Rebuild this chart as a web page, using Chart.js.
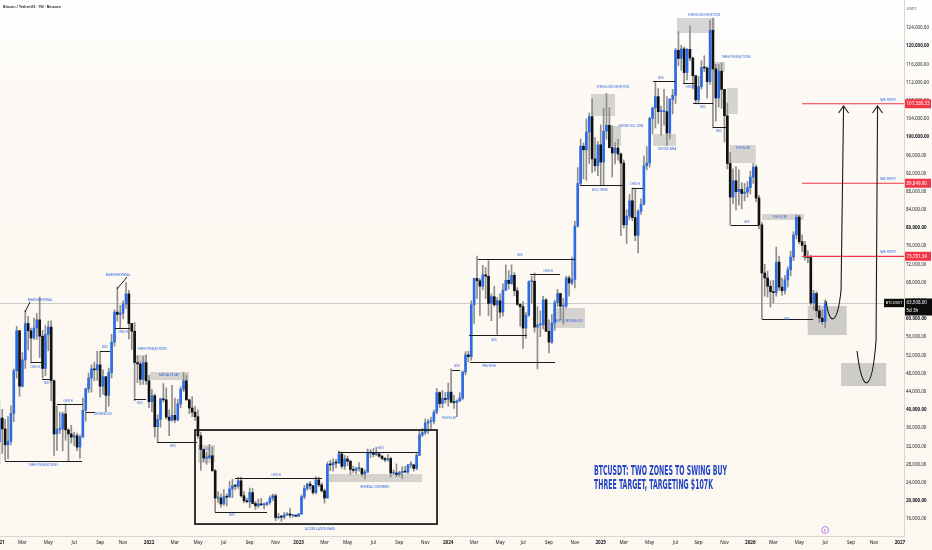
<!DOCTYPE html>
<html><head><meta charset="utf-8">
<script src="https://cdn.jsdelivr.net/npm/chart.js@4.4.0/dist/chart.umd.min.js"></script>
<style>
html,body{margin:0;padding:0;background:#fcf8f1;overflow:hidden}
#wrap{position:relative;width:932px;height:550px}
</style>
</head><body>
<div id="wrap"><canvas id="c" width="932" height="550" style="width:932px;height:550px"></canvas></div>
<script>
// ---------------- DATA (weekly candles, thousands USDT: [open, high, low, close]) ----------------
const firstWeek = '2021-01-04';
const ohlc2021 = [
[33.0,41.9,28.1,38.2],[38.2,40.1,30.4,35.8],[35.8,37.9,28.9,32.3],[32.3,38.5,29.2,33.1],
[33.1,40.9,32.3,39.2],[39.2,49.0,37.4,48.6],[48.6,58.4,47.0,57.4],[57.4,57.5,43.0,45.2],
[45.2,52.6,45.0,51.0],[51.0,61.8,49.1,59.0],[59.0,60.6,53.2,57.4],[57.4,58.0,50.3,55.8],[55.8,60.2,55.5,58.0],
[58.0,61.2,55.5,59.8],[59.8,64.8,51.5,56.2],[56.2,57.5,47.0,49.1],[49.1,58.5,47.5,56.6],
[56.6,59.5,53.0,58.2],[58.2,59.6,42.0,46.4],[46.4,46.6,30.0,34.7],[34.7,40.9,31.1,35.7],[35.7,39.5,34.8,35.8],
[35.8,39.5,31.0,39.1],[39.1,41.3,33.3,35.6],[35.6,35.8,28.8,34.7],[34.7,36.6,32.7,34.0],
[34.0,35.1,32.1,34.3],[34.3,34.9,31.0,31.8],[31.8,34.5,29.3,34.0],[34.0,42.6,34.0,39.9],
[39.9,44.8,37.5,44.6],[44.6,48.1,43.8,47.0],[47.0,49.9,43.9,49.0],[49.0,50.5,46.4,48.8],[48.8,52.9,46.5,49.9],
[49.9,52.9,42.8,45.2],[45.2,48.8,43.4,47.3],[47.3,47.3,39.6,43.2],[43.2,49.2,40.8,48.2],
[48.2,56.6,47.0,54.9],[54.9,62.0,54.0,61.5],[61.5,67.0,59.5,61.0],[61.0,63.0,57.8,61.3],
[61.3,64.0,60.0,63.3],[63.3,68.0,62.3,65.5],[65.5,66.3,55.6,59.0],[59.0,59.0,53.3,57.3],[57.3,59.2,42.0,50.4],
[50.4,51.9,46.0,50.1],[50.1,50.7,45.5,46.7],[46.7,51.8,45.6,50.4],[50.4,52.1,45.6,46.4]
];
const ohlc2022 = [
[46.4,47.6,40.5,41.8],[41.8,44.5,39.6,43.1],[43.1,43.5,34.0,36.3],[36.3,38.9,32.9,37.9],[37.9,42.6,36.2,42.4],
[42.4,45.8,41.7,42.2],[42.2,44.8,38.0,38.4],[38.4,40.0,34.3,37.7],[37.7,45.4,37.5,38.8],
[38.8,42.6,37.2,37.8],[37.8,42.3,37.6,41.3],[41.3,45.1,40.5,44.5],[44.5,48.2,44.0,46.4],
[46.4,47.7,42.1,42.2],[42.2,42.4,39.2,40.4],[40.4,42.9,38.5,39.5],[39.5,40.8,37.7,38.5],
[38.5,40.0,33.7,34.3],[34.3,35.0,26.7,31.3],[31.3,31.3,28.6,29.4],[29.4,30.6,28.0,29.5],[29.5,32.4,29.3,29.9],
[29.9,31.8,26.5,26.6],[26.6,26.9,17.6,20.6],[20.6,22.0,19.6,20.6],[20.6,21.5,18.6,19.3],
[19.3,22.5,19.0,20.9],[20.9,21.5,18.9,20.8],[20.8,24.3,20.8,22.6],[22.6,24.7,20.7,23.3],
[23.3,23.6,22.4,23.2],[23.2,25.2,22.7,24.4],[24.4,25.2,20.8,21.1],[21.1,22.0,19.5,20.0],[20.0,20.6,19.5,19.8],
[19.8,22.8,18.5,21.8],[21.8,22.7,19.3,19.4],[19.4,19.9,18.1,18.9],[18.9,20.4,18.5,19.3],
[19.3,20.5,19.0,19.1],[19.1,19.5,18.2,19.2],[19.2,19.7,18.9,19.6],[19.6,21.1,19.2,20.6],[20.6,21.5,20.0,21.1],
[21.1,21.5,15.6,16.3],[16.3,17.2,16.0,16.5],[16.5,16.8,15.5,16.4],[16.4,17.4,16.0,16.9],
[16.9,17.4,16.7,17.1],[17.1,18.4,16.3,16.8],[16.8,17.0,16.4,16.8],[16.8,16.9,16.5,16.6]
];
const ohlc2023 = [
[16.6,17.2,16.5,17.1],[17.1,21.3,17.0,20.9],[20.9,23.4,20.4,22.7],[22.7,23.9,22.3,23.7],[23.7,24.3,22.5,23.3],
[23.3,23.4,21.4,21.8],[21.8,25.3,21.5,24.6],[24.6,25.2,23.1,23.5],[23.5,23.9,21.9,22.2],
[22.2,22.6,19.5,20.6],[20.6,28.5,20.6,28.0],[28.0,28.9,26.6,27.9],[27.9,29.2,26.5,28.4],
[28.4,29.1,27.2,28.3],[28.3,31.0,28.2,30.3],[30.3,30.5,27.1,27.6],[27.6,30.0,26.9,29.2],
[29.2,29.8,27.7,28.7],[28.7,28.9,25.8,26.9],[26.9,27.6,26.2,26.7],[26.7,27.4,25.9,27.1],[27.1,28.4,26.5,27.1],
[27.1,27.2,25.4,25.9],[25.9,26.8,24.8,26.3],[26.3,31.4,26.2,30.5],[30.5,31.3,29.5,30.6],
[30.6,31.5,29.7,30.2],[30.2,31.8,29.9,30.3],[30.3,30.4,29.5,29.8],[29.8,30.0,29.0,29.3],[29.3,29.5,28.6,29.0],
[29.0,30.2,28.7,29.3],[29.3,29.6,25.2,26.1],[26.1,26.8,25.8,26.1],[26.1,28.1,25.3,25.8],
[25.8,26.5,25.4,26.2],[26.2,27.5,24.9,26.5],[26.5,27.5,26.3,26.3],[26.3,28.0,26.0,27.9],
[27.9,28.6,27.2,27.9],[27.9,28.0,26.5,27.1],[27.1,30.4,26.8,30.0],[30.0,35.3,29.9,34.5],[34.5,35.9,34.1,35.0],
[35.0,38.0,34.5,37.1],[37.1,37.9,34.8,37.4],[37.4,38.4,35.6,37.5],[37.5,40.0,36.9,39.5],
[39.5,44.7,39.1,43.8],[43.8,44.0,40.5,41.4],[41.4,44.3,40.5,42.5],[42.5,43.8,41.5,42.3]
];
const ohlc2024 = [
[42.3,45.9,40.8,43.9],[43.9,49.0,41.5,41.7],[41.7,43.2,40.3,41.6],[41.6,42.2,38.5,42.0],[42.0,43.8,41.8,42.6],
[42.6,48.6,42.2,48.3],[48.3,52.8,47.7,52.1],[52.1,52.9,50.5,51.7],[51.7,64.0,50.9,63.1],
[63.1,69.0,59.0,68.9],[68.9,73.8,64.5,68.4],[68.4,68.9,60.8,67.2],[67.2,71.8,66.4,69.7],
[69.7,71.3,64.5,69.4],[69.4,72.8,60.7,63.4],[63.4,65.5,59.6,64.9],[64.9,67.2,62.8,63.1],[63.1,64.7,56.6,64.0],
[64.0,65.5,60.2,61.5],[61.5,67.7,60.6,66.3],[66.3,71.9,66.3,68.5],[68.5,70.6,66.6,67.8],
[67.8,71.9,67.6,69.6],[69.6,70.2,65.1,66.2],[66.2,66.9,63.0,63.2],[63.2,63.4,58.4,62.7],
[62.7,63.8,53.5,58.0],[58.0,61.4,55.7,60.8],[60.8,68.4,60.6,68.2],[68.2,69.4,63.5,68.3],[68.3,70.1,57.1,58.2],
[58.2,62.7,49.0,58.7],[58.7,61.8,56.1,58.7],[58.7,65.0,57.8,64.2],[64.2,64.5,57.2,57.3],
[57.3,59.8,52.5,54.9],[54.9,61.0,54.6,59.1],[59.1,64.1,57.5,63.6],[63.6,66.5,62.7,65.6],[65.6,65.6,59.8,62.8],
[62.8,64.5,58.9,62.8],[62.8,69.4,62.4,69.0],[69.0,69.5,65.0,67.9],[67.9,73.6,67.5,68.7],
[68.7,81.5,66.8,80.4],[80.4,93.3,80.2,89.8],[89.8,99.6,89.4,98.0],[98.0,98.7,90.8,97.2],
[97.2,104.0,90.5,101.1],[101.1,105.3,94.2,104.5],[104.5,108.4,92.2,95.2],[95.2,99.9,92.5,93.7]
];
const ohlc2025 = [
[93.7,99.0,91.5,98.3],[98.3,102.7,89.3,94.5],[94.5,106.4,89.3,101.3],[101.3,109.6,99.5,102.6],[102.6,106.5,97.6,97.7],
[97.7,102.5,91.2,96.5],[96.5,98.8,94.1,97.6],[97.6,99.5,94.9,96.3],[96.3,96.5,78.3,94.3],
[94.3,95.0,80.0,80.7],[80.7,84.0,76.6,82.6],[82.6,87.4,81.9,86.0],[86.0,88.8,81.6,82.3],[82.3,88.5,77.2,78.4],
[78.4,84.0,74.5,83.7],[83.7,86.4,83.0,85.2],[85.2,95.8,85.1,93.7],[93.7,97.9,92.8,94.3],
[94.3,104.4,93.4,104.1],[104.1,106.6,100.7,106.4],[106.4,112.0,102.0,108.9],[108.9,110.7,103.0,105.6],
[105.6,106.8,100.4,105.6],[105.6,110.5,102.6,105.6],[105.6,108.9,98.2,100.9],[100.9,108.5,99.6,108.3],[108.3,110.5,105.1,109.2],
[109.2,119.5,107.4,119.1],[119.1,123.2,115.7,117.3],[117.3,120.2,114.7,119.4],[119.4,119.8,112.0,114.2],
[114.2,119.5,112.6,119.3],[119.3,124.5,116.8,117.4],[117.4,117.6,110.6,113.5],[113.5,113.6,107.3,108.2],
[108.2,113.4,107.3,111.1],[111.1,116.8,110.6,115.3],[115.3,117.9,114.4,115.2],[115.2,115.4,108.6,112.2],[112.2,125.7,111.6,123.5],
[123.5,126.2,102.0,115.0],[115.0,116.0,103.5,108.6],[108.6,116.0,106.6,114.5],[114.5,116.4,106.3,110.5],
[110.5,110.5,98.9,104.7],[104.7,107.5,93.0,94.2],[94.2,96.6,80.6,86.8],[86.8,93.0,85.3,90.4],
[90.4,93.5,84.0,88.0],[88.0,92.8,85.0,88.5],[88.5,90.0,84.2,87.6],[87.6,89.8,86.0,87.9]
];
const ohlc2026 = [
[87.9,90.2,86.8,88.9],[88.9,92.5,87.5,91.2],[91.2,94.2,89.8,93.4],[93.4,93.9,85.8,86.6],[86.6,87.2,79.8,80.7],
[80.7,81.2,60.0,70.1],[70.1,72.0,65.0,69.0],[69.0,70.5,64.8,67.2],[67.2,68.4,62.6,66.0],
[66.0,68.5,63.5,65.8],[65.8,75.8,65.0,72.5],[72.5,73.8,66.3,67.0],[67.0,69.0,65.2,66.2],[66.2,69.6,65.5,68.6],
[68.6,71.5,67.0,70.8],[70.8,74.9,69.5,73.6],[73.6,79.2,72.8,78.5],[78.5,82.9,77.6,82.4],
[82.4,82.8,76.5,77.0],[77.0,78.5,74.8,76.2],[76.2,77.0,73.0,73.6],[73.6,75.0,72.4,73.5],
[73.5,74.0,63.0,63.5],[63.5,66.3,62.0,65.6],[65.6,66.0,60.5,61.8],[61.8,63.0,59.2,60.2],[60.2,62.0,58.8,59.4],
[59.4,64.2,58.0,63.5]
];
const lastPrice = 63.508;
const targets = [107.33833, 89.8499, 73.78134];
const targetText = ['107,338.33', '89,849.90', '73,781.34'];
const yTicks = [16,20,24,28,32,36,40,44,48,52,56,60,64,68,72,76,80,84,88,92,96,100,104,108,112,116,120,124];
const monthNames = ['Jan','Feb','Mar','Apr','May','Jun','Jul','Aug','Sep','Oct','Nov','Dec'];
const tickYears = [2021,2022,2023,2024,2025,2026,2027];
const tickMonths = [0,2,4,6,8,10];

// ---------------- annotations (week index, price in thousands) ----------------
const zoneBoxes = [
[47.48,51.30,52.06,50.52],[52.35,65.90,48.32,46.56],[69.03,74.94,32.26,28.30],[114.57,146.89,25.88,24.12],
[192.42,203.55,62.4,58.0],[205.63,213.97,109.48,104.64],[211.89,216.06,102.44,98.04],[227.18,235.17,100.68,98.04],
[235.52,248.73,126.2,122.9],[248.39,252.21,116.52,114.32],[252.83,256.65,110.8,105.08],[253.87,262.91,98.26,94.30],
[265.07,279.53,83.08,81.76]
];
const buyZones = [[280.92,294.48,62.84,56.46],[292.53,308.17,50.30,45.24]];
const structLines = [
[1.95,28.71,28.74],[10.98,14.81,50.52],[14.81,18.28,46.78],[20.02,29.06,41.28],[30.10,33.23,39.52],
[34.97,38.44,52.94],[40.18,45.40,58.0],[46.79,50.96,42.38],[54.78,68.68,32.92],[81.89,112.13,25.0],
[74.94,93.01,17.52],[117.69,145.50,30.72],[157.32,160.10,48.76],[166.36,200.07,73.18],[163.23,183.39,56.46],
[163.58,193.12,50.52],[184.43,194.86,69.88],[201.81,216.75,89.46],[219.88,223.71,88.8],[227.18,234.83,112.34],
[237.61,242.48,111.9],[241.09,248.04,107.5],[248.04,252.91,102.22],[254.30,264.03,80.66],[265.07,282.80,59.98]
];
const diagLines = [[8.90,61.52,10.64,63.72],[40.88,66.58,44.35,69.22]];
const accBox = [67.99,152.10,35.56,14.88];
const notes = [
['THREE PIN REJECTIONS',15.16,27.86],['BEARISH REVERSAL',14.11,64.16],['CHOCH',12.38,49.42],['BOS',16.55,45.9],
['CHOCH',23.85,41.94],['ORDER BLOCK',36.01,39.08],['BOS',36.71,53.82],['BEARISH REVERSAL',41.22,69.66],
['CHOCH',42.96,57.12],['THREE PIN REJECTIONS',53.04,53.38],['BOS',48.87,41.5],['FAIR VALUE GAP',58.95,47.66],
['BOS',60.34,32.04],['FVG',72.16,31.38],['ACCUMULATION PHASE',111.44,13.78],['CHOCH',96.14,25.66],
['BOS',80.85,16.86],['BOS',132.64,31.6],['REVERSAL CONFIRMED',130.55,23.02],['BOS',159.06,49.64],
['FVG FILLED',156.27,38.2],['BOS',180.96,74.06],['BOS',171.92,55.36],['PREV HIGH',170.2,49.62],
['SWEPT + ORDER BLOCK',197.64,59.54],['CHOCH',190.69,70.54],['STRONG WICK REJECTION',213.28,111.02],
['STRONG SELL ZONE',219.53,102.44],['BULL TREND',208.76,88.36],['CHOCH',220.92,89.68],['BOS',229.96,113.0],
['OB VOID AREA',232.05,97.38],['STRONG WICK REJECTION',244.91,126.86],['CHOCH',240.04,111.02],['BOS',244.49,106.62],
['THREE PIN REJECTIONS',256.04,117.62],['BOS',250.05,101.34],['FVG FILLED',258.46,97.6],['BOS',259.86,81.32],
['FVG FILLED',271.33,82.42],['BOS',273.76,59.98]
];
const arrowPaths = [
[[287.31,63.94],[288.36,58.66],[291.14,58.0],[292.53,66.36],[293.40,106.84]],
[[298.09,52.94],[299.83,43.26],[303.30,43.26],[304.69,55.36],[305.21,106.84]]
];
const headline = ['BTCUSDT: TWO ZONES TO SWING BUY','THREE TARGET, TARGETING $107K'];
const headlineAt = [206.68,25.66];

// ---------------- build ----------------
const rows = [].concat(ohlc2021, ohlc2022, ohlc2023, ohlc2024, ohlc2025, ohlc2026);
const BLUE = '#2b6ce6', BLACK = '#111111', WICK = '#8e8e8e';
const bodyData = rows.map((r,i)=>({x:i, y:[Math.min(r[0],r[3]), Math.max(r[0],r[3])]}));
const bodyColors = rows.map(r => r[3] >= r[0] ? BLUE : BLACK);
const wickData = rows.map((r,i)=>({x:i, y:[r[2], r[1]]}));

const t0 = Date.UTC(2021,0,4), WEEK = 7*864e5;
const xTickVals = [], xTickText = [], xTickYear = [];
tickYears.forEach(y => tickMonths.forEach(m => {
  const idx = Math.ceil((Date.UTC(y,m,1) - t0) / WEEK);
  if (idx >= 0 && idx <= 314.4) {
    xTickVals.push(idx); xTickText.push(m === 0 ? String(y) : monthNames[m]); xTickYear.push(m === 0);
  }
}));

const FONT = '"Noto Sans", "Liberation Sans", sans-serif';
const fmt = v => (v*1000).toLocaleString('en-US',{minimumFractionDigits:2, maximumFractionDigits:2});

const annot = {
  id: 'annot',
  beforeDraw(chart){
    const ctx = chart.ctx;
    const g = ctx.createLinearGradient(0,0,0,550);
    g.addColorStop(0,'#ffffff'); g.addColorStop(0.15,'#fdfaf5'); g.addColorStop(1,'#fcf7ef');
    ctx.save(); ctx.fillStyle = g; ctx.fillRect(0,0,chart.width,chart.height); ctx.restore();
  },
  beforeDatasetsDraw(chart){
    const {ctx, chartArea:a, scales:{x, y}} = chart;
    ctx.save();
    ctx.beginPath(); ctx.rect(a.left, a.top, a.right-a.left, a.bottom-a.top); ctx.clip();
    ctx.fillStyle = 'rgba(150,150,150,0.38)';
    zoneBoxes.forEach(b => {
      const x1 = x.getPixelForValue(b[0]), x2 = x.getPixelForValue(b[1]);
      const y1 = y.getPixelForValue(b[2]), y2 = y.getPixelForValue(b[3]);
      ctx.fillRect(x1, y1, x2-x1, y2-y1);
    });
    ctx.fillStyle = 'rgba(160,160,160,0.5)';
    buyZones.forEach(b => {
      const x1 = x.getPixelForValue(b[0]), x2 = x.getPixelForValue(b[1]);
      const y1 = y.getPixelForValue(b[2]), y2 = y.getPixelForValue(b[3]);
      ctx.fillRect(x1, y1, x2-x1, y2-y1);
    });
    // last price line
    const ly = Math.round(y.getPixelForValue(lastPrice)) + 0.5;
    ctx.strokeStyle = 'rgba(140,140,140,0.55)'; ctx.lineWidth = 0.8;
    ctx.beginPath(); ctx.moveTo(a.left, ly); ctx.lineTo(a.right, ly); ctx.stroke();
    ctx.restore();
  },
  afterDatasetsDraw(chart){
    const {ctx, chartArea:a, scales:{x, y}} = chart;
    const X = v => x.getPixelForValue(v), Y = v => y.getPixelForValue(v);
    ctx.save();
    ctx.beginPath(); ctx.rect(a.left, a.top, a.right-a.left, a.bottom-a.top); ctx.clip();
    // structure lines
    ctx.strokeStyle = '#1b1b1b'; ctx.lineWidth = 1;
    structLines.forEach(l => {
      const yy = Math.round(Y(l[2])) + 0.5;
      ctx.beginPath(); ctx.moveTo(X(l[0]), yy); ctx.lineTo(X(l[1]), yy); ctx.stroke();
    });
    diagLines.forEach(l => {
      ctx.beginPath(); ctx.moveTo(X(l[0]), Y(l[1])); ctx.lineTo(X(l[2]), Y(l[3])); ctx.stroke();
    });
    // accumulation rectangle
    ctx.lineWidth = 1.8; ctx.strokeStyle = '#222';
    ctx.strokeRect(X(accBox[0]), Y(accBox[2]), X(accBox[1]) - X(accBox[0]), Y(accBox[3]) - Y(accBox[2]));
    // target lines
    ctx.strokeStyle = '#f23645'; ctx.lineWidth = 1.2;
    targets.forEach(t => {
      const yy = Y(t);
      ctx.beginPath(); ctx.moveTo(X(278.97), yy); ctx.lineTo(a.right, yy); ctx.stroke();
    });
    // arrows
    ctx.strokeStyle = '#1a1a1a'; ctx.lineWidth = 1.1;
    arrowPaths.forEach(p => {
      ctx.beginPath();
      ctx.moveTo(X(p[0][0]), Y(p[0][1]));
      ctx.bezierCurveTo(X(p[1][0]), Y(p[1][1]), X(p[2][0]), Y(p[2][1]), X(p[3][0]), Y(p[3][1]));
      const tx = X(p[4][0]), ty = Y(p[4][1]);
      ctx.lineTo(tx, ty); ctx.stroke();
      ctx.beginPath(); ctx.moveTo(tx-5, ty+7); ctx.lineTo(tx, ty); ctx.lineTo(tx+5, ty+7); ctx.stroke();
    });
    // small notes
    ctx.fillStyle = '#2f5fe0'; ctx.font = '2.7px ' + FONT; ctx.textAlign = 'center'; ctx.textBaseline = 'middle';
    notes.forEach(n => ctx.fillText(n[0], X(n[1]), Y(n[2])));
    // take profit labels
    ctx.textAlign = 'right';
    targets.forEach(t => ctx.fillText('TAKE PROFIT', a.right - 8, Y(t) - 4));
    // headline
    ctx.fillStyle = '#2445c8';
    ctx.font = 'bold 14px "Liberation Sans Narrow", "DejaVu Sans Condensed", "Roboto", sans-serif';
    ctx.textAlign = 'left'; ctx.textBaseline = 'alphabetic';
    const sx = 133 / ctx.measureText(headline[0]).width;
    ctx.translate(X(headlineAt[0]), Y(headlineAt[1]));
    ctx.scale(sx, 1);
    ctx.fillText(headline[0], 0, 0);
    ctx.fillText(headline[1], 0, 14);
    ctx.restore();
  },
  afterDraw(chart){
    const {ctx, chartArea:a, scales:{x, y}} = chart;
    const Y = v => y.getPixelForValue(v);
    ctx.save();
    ctx.textBaseline = 'middle';
    // target price boxes on the axis
    targets.forEach((t,i) => {
      const yy = Y(t);
      ctx.fillStyle = '#f23645'; ctx.fillRect(a.right + 1, yy - 4.5, 26, 9);
      ctx.fillStyle = '#ffffff'; ctx.font = '4.5px ' + FONT; ctx.textAlign = 'left';
      ctx.fillText(targetText[i], a.right + 2.5, yy);
    });
    // last price boxes
    const ly = Y(lastPrice);
    ctx.fillStyle = '#0c0c0c';
    ctx.fillRect(a.right - 20, ly - 4.2, 20, 8.4);
    ctx.fillRect(a.right + 1, ly - 4.5, 27, 17);
    ctx.fillStyle = '#ffffff'; ctx.font = '3.8px ' + FONT; ctx.textAlign = 'center';
    ctx.fillText('BTCUSDT', a.right - 10, ly);
    ctx.font = '4.5px ' + FONT; ctx.textAlign = 'left';
    ctx.fillText(fmt(lastPrice), a.right + 2.5, ly);
    ctx.fillText('5d 3h', a.right + 2.5, ly + 8);
    // axis unit + header
    ctx.fillStyle = '#50535e'; ctx.font = '4px ' + FONT; ctx.fillText('USDT', a.right + 2.5, 9);
    ctx.fillStyle = '#131722'; ctx.font = '600 3.7px ' + FONT;
    ctx.fillText('Bitcoin / TetherUS \u00b7 1W \u00b7 Binance', 3, 7);
    // event marker at the current bar
    const ex = x.getPixelForValue(rows.length - 1), ey = a.bottom - 6;
    ctx.strokeStyle = '#b86fd8'; ctx.lineWidth = 0.9; ctx.fillStyle = '#ffffff';
    ctx.beginPath(); ctx.arc(ex, ey, 3.4, 0, Math.PI*2); ctx.fill(); ctx.stroke();
    ctx.fillStyle = '#b86fd8'; ctx.font = 'bold 4px ' + FONT; ctx.textAlign = 'center';
    ctx.fillText('\u03dd', ex, ey + 0.3);
    ctx.restore();
  }
};

new Chart(document.getElementById('c'), {
  type: 'bar',
  data: {
    datasets: [
      { label: 'body', data: bodyData, backgroundColor: bodyColors, barThickness: 2, minBarLength: 1,
        grouped: false, order: 0, borderWidth: 0 },
      { label: 'wick', data: wickData, backgroundColor: WICK, barThickness: 1, grouped: false, order: 1, borderWidth: 0 }
    ]
  },
  options: {
    responsive: false, animation: false, maintainAspectRatio: false,
    layout: { padding: 0 },
    plugins: { legend: { display: false }, tooltip: { enabled: false }, title: { display: false } },
    scales: {
      x: {
        type: 'linear', position: 'bottom', min: 0.21, max: 314.4, offset: false,
        grid: { display: false, drawTicks: false, offset: false },
        border: { display: true, color: '#d9d5cf', width: 1 },
        ticks: {
          autoSkip: false, maxRotation: 0, padding: 3.5, color: '#131722',
          font: c => ({ size: 4.6, family: FONT, weight: xTickYear[c.index] ? 'bold' : 'normal' }),
          callback: (v, i) => xTickText[i]
        },
        afterBuildTicks: s => { s.ticks = xTickVals.map(v => ({ value: v })); },
        afterFit: s => { s.height = 14; s.paddingLeft = 0; s.paddingRight = 0; }
      },
      y: {
        type: 'linear', position: 'right', min: 12.25, max: 130.16,
        grid: { display: false, drawTicks: false },
        border: { display: true, color: '#d9d5cf', width: 1 },
        ticks: {
          padding: 2, color: '#131722',
          font: c => ({ size: 4.5, family: FONT, weight: (c.tick && c.tick.value % 20 === 0) ? 'bold' : 'normal' }),
          callback: v => fmt(v)
        },
        afterBuildTicks: s => { s.ticks = yTicks.map(v => ({ value: v })); },
        afterFit: s => { s.width = 28; s.paddingTop = 0; s.paddingBottom = 0; }
      }
    }
  },
  plugins: [annot]
});
</script>
</body></html>
